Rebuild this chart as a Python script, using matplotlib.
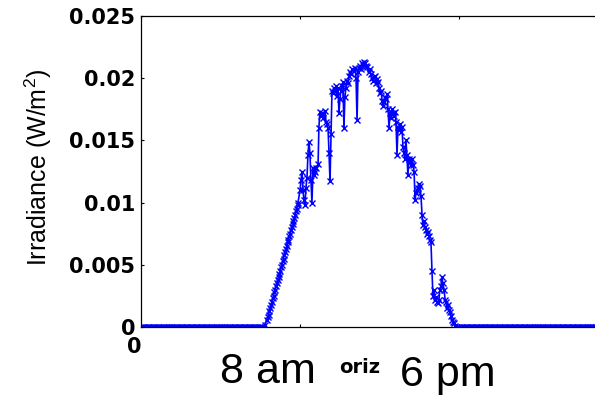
import numpy as np
import matplotlib

matplotlib.use("Agg")
import matplotlib.pyplot as plt  # noqa: E402

# daytime samples: hour of day and irradiance (W/m^2)
day_hours = [6.09, 6.24,
             6.33, 6.38, 6.42, 6.46, 6.50, 6.54, 6.58, 6.63, 6.67, 6.71,
             6.75, 6.79, 6.83, 6.88, 6.92, 6.96, 7.00, 7.04, 7.08, 7.13,
             7.17, 7.21, 7.25, 7.29, 7.33, 7.38, 7.42, 7.46, 7.50, 7.54,
             7.58, 7.63, 7.67, 7.71, 7.75, 7.79, 7.83, 7.88,
             7.90, 8.00, 8.10, 8.15, 8.25, 8.35, 8.45, 8.50, 8.60,
             8.66, 8.75, 8.91, 8.95, 9.00, 9.10, 9.26, 9.31, 9.41, 9.46,
             9.51, 9.56, 9.61, 9.71, 9.81, 9.91, 9.96, 10.06, 10.16, 10.21,
             10.26, 10.36, 10.46, 10.52, 10.62, 10.77, 10.87, 10.92, 11.02, 11.12,
             11.22, 11.27, 11.37, 11.52, 11.62, 11.67, 11.77, 11.87, 11.97, 12.08,
             12.13, 12.18, 12.28, 12.38, 12.43, 12.48, 12.53, 12.63, 12.73, 12.78,
             12.88, 12.93, 13.03, 13.13, 13.18, 13.28, 13.33, 13.43, 13.48, 13.53,
             13.64, 13.69, 13.79, 13.89, 13.99, 14.04, 14.14, 14.19, 14.29, 14.39,
             14.49, 14.54, 14.64, 14.69, 14.79, 14.89, 14.94, 15.04, 15.14, 15.19,
             15.30, 15.40, 15.45, 15.55, 15.65, 15.70, 15.80, 15.90]
day_irr = [0.0, 0.0002,
           0.0006, 0.0008, 0.0010, 0.0013, 0.0015, 0.0018, 0.0020, 0.0023, 0.0025, 0.0028,
           0.0030, 0.0033, 0.0035, 0.0038, 0.0040, 0.0043, 0.0045, 0.0048, 0.0050, 0.0053,
           0.0055, 0.0058, 0.0060, 0.0063, 0.0065, 0.0068, 0.0070, 0.0073, 0.0075, 0.0078,
           0.0080, 0.0083, 0.0085, 0.0088, 0.0090, 0.0093, 0.0095, 0.0098,
           0.0100, 0.0110, 0.0125, 0.0110, 0.0098, 0.0120, 0.0149, 0.0140, 0.0100,
           0.0128, 0.0125, 0.0131, 0.0160, 0.0173, 0.0172, 0.0174, 0.0165, 0.0160, 0.0140,
           0.0117, 0.0155, 0.0190, 0.0192, 0.0194, 0.0192, 0.0172, 0.0190, 0.0197, 0.0160,
           0.0185, 0.0198, 0.0202, 0.0205, 0.0207, 0.0208, 0.0166, 0.0205, 0.0210, 0.0212,
           0.0213, 0.0212, 0.0209, 0.0207, 0.0200, 0.0198, 0.0202, 0.0199, 0.0192, 0.0190,
           0.0182, 0.0178, 0.0185, 0.0187, 0.0175, 0.0160, 0.0172, 0.0175, 0.0170, 0.0173,
           0.0138, 0.0161, 0.0163, 0.0161, 0.0145, 0.0135, 0.0150, 0.0122, 0.0135, 0.0133,
           0.0135, 0.0130, 0.0102, 0.0110, 0.0115, 0.0113, 0.0090, 0.0082, 0.0080, 0.0075,
           0.0073, 0.0070, 0.0045, 0.0025, 0.0022, 0.0020, 0.0019, 0.0030, 0.0040, 0.0035,
           0.0022, 0.0015, 0.0018, 0.0012, 0.0006, 0.0004, 0.0001, 0.0]

# in-between samples in the noisy midday clusters
extra_hours = [8.05, 8.20, 8.30, 8.40, 8.55, 8.70, 8.83, 9.05, 9.18, 9.36,
               9.66, 9.76, 9.86, 10.01, 10.11, 10.31, 10.41, 10.57, 10.70, 10.82,
               10.97, 11.07, 11.17, 11.32, 11.45, 11.57, 11.72, 11.82, 11.92, 12.02,
               12.23, 12.33, 12.58, 12.68, 12.83, 12.98, 13.08, 13.23, 13.38, 13.58,
               13.74, 13.84, 13.94, 14.09, 14.24, 14.34, 14.44, 14.59, 14.74, 14.84,
               14.99, 15.09, 15.25, 15.35, 15.50, 15.60, 15.75]
extra_irr = [0.0118, 0.0102, 0.0112, 0.0138, 0.0118, 0.0122, 0.0128, 0.0170, 0.0168, 0.0163,
             0.0188, 0.0190, 0.0186, 0.0183, 0.0194, 0.0192, 0.0196, 0.0203, 0.0206, 0.0200,
             0.0208, 0.0207, 0.0211, 0.0210, 0.0205, 0.0203, 0.0201, 0.0196, 0.0197, 0.0188,
             0.0181, 0.0183, 0.0168, 0.0172, 0.0165, 0.0158, 0.0157, 0.0140, 0.0138, 0.0130,
             0.0125, 0.0108, 0.0112, 0.0105, 0.0085, 0.0078, 0.0076, 0.0068, 0.0030, 0.0024,
             0.0022, 0.0033, 0.0030, 0.0020, 0.0014, 0.0009, 0.0003]

# night: 5-minute samples, irradiance zero
night_am = np.arange(0, 6.05, 1 / 12)
night_pm = np.arange(16.0, 24.01, 1 / 12)

yticks = [0, 0.005, 0.01, 0.015, 0.02, 0.025]
ytick_labels = ["0", "0.005", "0.01", "0.015", "0.02", "0.025"]

t_day = np.array(day_hours + extra_hours)
g_day = np.array(day_irr + extra_irr)
order = np.argsort(t_day)
hours = np.concatenate([night_am, t_day[order], night_pm])
irr = np.concatenate([np.zeros(len(night_am)), g_day[order], np.zeros(len(night_pm))])

fig = plt.figure(figsize=(5.95, 3.95), dpi=100)
# right edge of the axes runs past the figure, as in the cropped original
ax = fig.add_axes([141 / 595, 68 / 395, 477 / 595, 311 / 395])
ax.plot(hours, irr, "-", color="blue", lw=1.2, marker="x", ms=5, mew=1.0)

ax.set_xlim(0, 24)
ax.set_ylim(0, 0.025)
ax.set_xticks([0, 8, 16, 24])
ax.set_xticklabels([])
ax.set_yticks(yticks)
ax.set_yticklabels(ytick_labels, fontsize=15, fontweight="bold",
                   family="DejaVu Sans")
ax.tick_params(direction="in", length=2.5, width=0.8, top=True, right=False,
               pad=4, colors="black")
for side in ("left", "top", "bottom"):
    ax.spines[side].set_linewidth(0.9)
ax.spines["right"].set_visible(False)

# x tick label "0", sits left of the axis origin
ax.annotate("0", xy=(0, 0), xycoords=("data", "axes fraction"),
            xytext=(0, -7), textcoords="offset points", ha="right", va="top",
            fontsize=15, fontweight="bold", family="DejaVu Sans")

plt.rcParams["mathtext.fontset"] = "custom"
plt.rcParams["mathtext.rm"] = "Liberation Sans"
fig.text(38 / 595, 1 - 167 / 395, "Irradiance (W/m$^\\mathregular{2}$)",
         rotation=90, ha="center", va="center", fontsize=18,
         family="Liberation Sans")

fig.text(268 / 595, 1 - 383 / 395, "8 am", ha="center", va="baseline",
         fontsize=31, family="Liberation Sans")
fig.text(360 / 595, 1 - 373 / 395, "oriz", ha="center", va="baseline",
         fontsize=14, fontweight="bold", family="DejaVu Sans")
fig.text(448 / 595, 1 - 386 / 395, "6 pm", ha="center", va="baseline",
         fontsize=31, family="Liberation Sans")

fig.savefig("out.png", dpi=100)
